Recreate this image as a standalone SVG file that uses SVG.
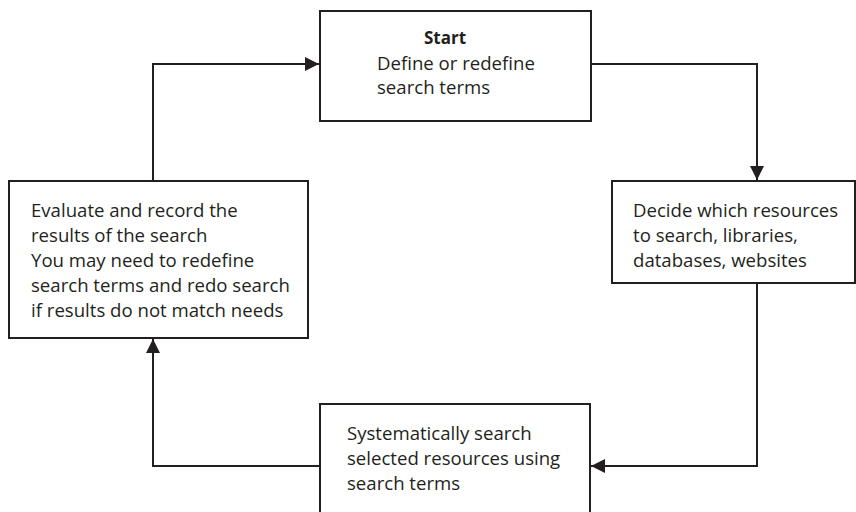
<svg xmlns="http://www.w3.org/2000/svg" width="856" height="512" viewBox="0 0 856 512">
<style>
.box{fill:#fff;stroke:#231f20;stroke-width:2}
.t{font-family:"Open Sans","Liberation Sans",sans-serif;font-size:18.6px;fill:#231f20}
.b{font-weight:bold;font-size:17px}
.c{fill:none;stroke:#231f20;stroke-width:2}
</style>
<defs>
<marker id="ah" viewBox="0 0 14 14" refX="14" refY="7" markerWidth="14" markerHeight="14" markerUnits="userSpaceOnUse" orient="auto">
<path d="M0,0 L14,7 L0,14 Z" fill="#231f20"/>
</marker>
</defs>
<rect width="856" height="512" fill="#fff"/>
<g id="connectors">
<path class="c" d="M153,181 V64 H319" marker-end="url(#ah)"/>
<path class="c" d="M591,64 H757 V180" marker-end="url(#ah)"/>
<path class="c" d="M757,283 V466 H591" marker-end="url(#ah)"/>
<path class="c" d="M320,466 H153 V339" marker-end="url(#ah)"/>
</g>
<g id="start">
<rect class="box" x="320" y="11" width="271" height="110"/>
<text class="t b" x="445" y="44" text-anchor="middle">Start</text>
<text class="t" x="377" y="70">Define or redefine</text>
<text class="t" x="377" y="94">search terms</text>
</g>
<g id="decide">
<rect class="box" x="612" y="181" width="243" height="102"/>
<text class="t" x="633" y="217">Decide which resources</text>
<text class="t" x="633" y="242">to search, libraries,</text>
<text class="t" x="633" y="267">databases, websites</text>
</g>
<g id="search">
<rect class="box" x="320" y="404" width="270" height="120"/>
<text class="t" x="347" y="440">Systematically search</text>
<text class="t" x="347" y="465">selected resources using</text>
<text class="t" x="347" y="490">search terms</text>
</g>
<g id="evaluate">
<rect class="box" x="9" y="181" width="299" height="157"/>
<text class="t" x="31" y="217">Evaluate and record the</text>
<text class="t" x="31" y="242">results of the search</text>
<text class="t" x="31" y="267">You may need to redefine</text>
<text class="t" x="31" y="292">search terms and redo search</text>
<text class="t" x="31" y="317">if results do not match needs</text>
</g>
</svg>
